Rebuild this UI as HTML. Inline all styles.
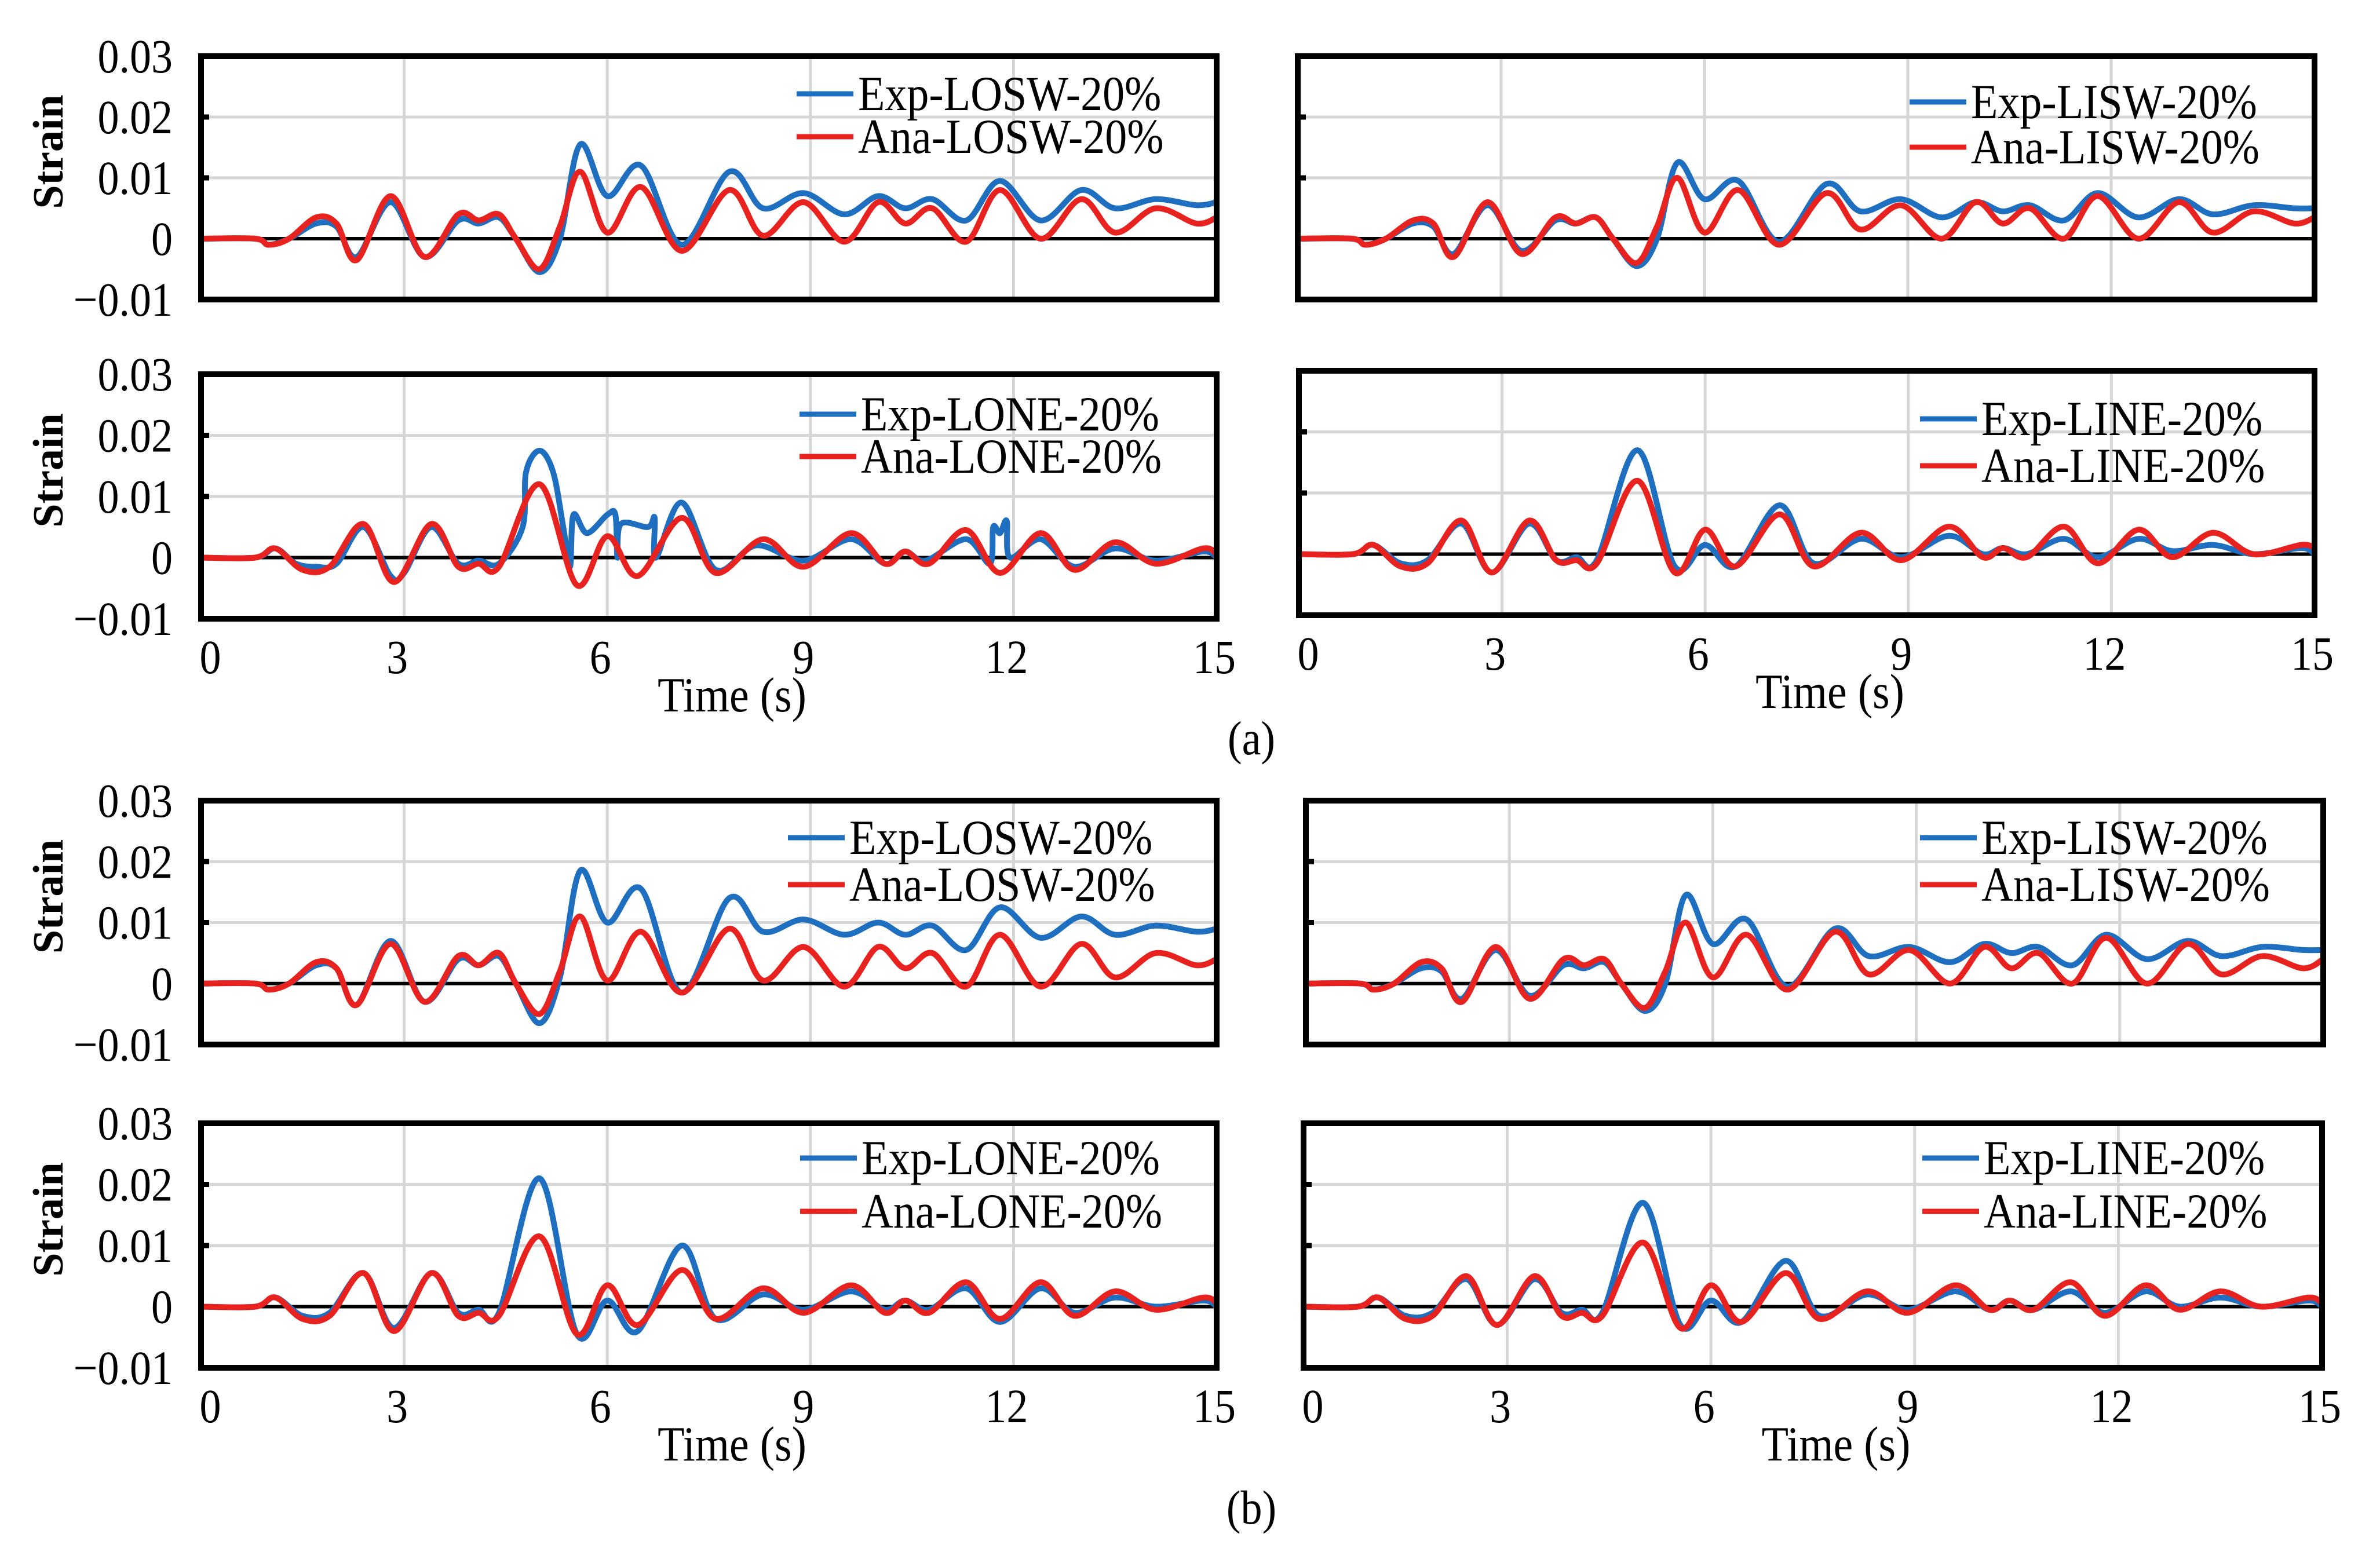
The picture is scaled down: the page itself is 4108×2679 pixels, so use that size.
<!DOCTYPE html>
<html><head><meta charset="utf-8">
<style>
html,body{margin:0;padding:0;background:#fff;}
svg{display:block;}
text{font-family:"Liberation Serif",serif;fill:#000;}
</style></head>
<body>
<svg id="fig" width="4108" height="2679" viewBox="0 0 4108 2679" xmlns="http://www.w3.org/2000/svg">
<rect x="0" y="0" width="4108" height="2679" fill="#ffffff"/>
<text x="0" y="0" transform="translate(2160,1302) scale(1,1.12)" font-size="74" text-anchor="middle">(a)</text>
<text x="0" y="0" transform="translate(2160,2630) scale(1,1.12)" font-size="74" text-anchor="middle">(b)</text>
</svg>
<script>
// ---------- data ----------
const xTicks = [0, 3, 6, 9, 12, 15];
const yTicks = [0.03, 0.02, 0.01, 0, -0.01];
const yTickLabels = ["0.03", "0.02", "0.01", "0", "\u22120.01"];

const tSW = [0,0.8,1.0,1.3,1.7,2.0,2.3,2.8,3.3,3.8,4.1,4.4,4.65,5.0,5.3,5.6,6.0,6.5,7.1,7.8,8.3,8.9,9.5,10.0,10.4,10.8,11.3,11.8,12.4,13.0,13.5,14.1,14.7,15];
const expA_LOSW = [0,0,-0.001,0,0.0025,0.002,-0.003,0.006,-0.003,0.003,0.0025,0.0035,0,-0.0055,0,0.0155,0.007,0.012,-0.001,0.011,0.005,0.0075,0.004,0.007,0.005,0.0065,0.003,0.0095,0.003,0.008,0.005,0.0065,0.0055,0.006];
const anaA_LOSW = [0,0,-0.001,0,0.0035,0.0025,-0.0035,0.007,-0.003,0.004,0.003,0.004,0,-0.005,0.002,0.011,0.001,0.0085,-0.002,0.008,0.0005,0.006,-0.0005,0.006,0.0025,0.005,-0.0005,0.008,0,0.0065,0.001,0.005,0.0025,0.0035];
const expA_LISW = [0,0,-0.001,0,0.0025,0.002,-0.0025,0.0055,-0.002,0.003,0.0025,0.0035,0,-0.0045,0,0.0125,0.0065,0.0095,-0.0005,0.009,0.0045,0.0065,0.0035,0.006,0.0045,0.0055,0.003,0.0075,0.0035,0.0065,0.004,0.0055,0.005,0.005];
const anaA_LISW = [0,0,-0.001,0,0.003,0.0025,-0.003,0.006,-0.0025,0.0035,0.0025,0.0035,0,-0.004,0.002,0.010,0.001,0.008,-0.001,0.0075,0.0015,0.0055,0,0.006,0.0025,0.005,0,0.007,0,0.006,0.001,0.0045,0.0025,0.0035];
const expB_LOSW = [0,0,-0.001,0,0.003,0.0025,-0.0035,0.007,-0.003,0.004,0.003,0.0045,0,-0.0065,0.001,0.0185,0.010,0.0155,-0.0015,0.014,0.0085,0.0105,0.008,0.010,0.008,0.0095,0.0055,0.0125,0.0075,0.011,0.008,0.0095,0.0085,0.009];
const anaB_LOSW = [0,0,-0.001,0,0.0035,0.0025,-0.0035,0.0065,-0.003,0.0045,0.003,0.005,0,-0.005,0.002,0.011,0.0005,0.0085,-0.0015,0.009,0.0005,0.006,-0.0005,0.006,0.0025,0.005,-0.0005,0.008,-0.0005,0.0065,0.001,0.005,0.003,0.004];
const expB_LISW = [0,0,-0.001,0,0.0025,0.002,-0.0025,0.0055,-0.002,0.003,0.0025,0.0035,0,-0.0045,0,0.0145,0.0065,0.0105,-0.0005,0.009,0.0045,0.006,0.0035,0.0065,0.005,0.006,0.003,0.008,0.004,0.007,0.0045,0.006,0.0055,0.0055];
const anaB_LISW = [0,0,-0.001,0,0.0035,0.0025,-0.003,0.006,-0.0025,0.004,0.003,0.004,0,-0.004,0.002,0.010,0.001,0.008,-0.001,0.0085,0.0015,0.0055,0,0.006,0.0025,0.005,0,0.0075,0,0.0065,0.0015,0.0045,0.0025,0.004];

const tNE = [0,0.8,1.1,1.5,1.9,2.4,2.85,3.4,3.8,4.1,4.4,5.0,5.55,6.0,6.45,7.1,7.6,8.3,8.9,9.6,10.1,10.4,10.75,11.3,11.8,12.4,12.9,13.5,14.1,14.8,15];
const anaA_LONE = [0,0,0.0015,-0.002,-0.0015,0.0055,-0.004,0.0055,-0.0015,-0.001,-0.0015,0.012,-0.0045,0.0035,-0.003,0.0065,-0.0025,0.003,-0.0015,0.004,-0.001,0.001,-0.001,0.0045,-0.0025,0.004,-0.002,0.0025,-0.001,0.0015,0.0005];
const expA_LINE = [0,0,0.0015,-0.0015,-0.001,0.005,-0.003,0.005,-0.001,-0.0005,-0.001,0.017,-0.002,0.0015,-0.002,0.008,-0.0015,0.0025,-0.0005,0.003,0,0.001,0,0.0025,-0.0005,0.0025,0.0005,0.0015,0,0.001,0];
const anaA_LINE = [0,0,0.0015,-0.002,-0.0015,0.0055,-0.003,0.0055,-0.001,-0.001,-0.0015,0.012,-0.003,0.004,-0.002,0.0065,-0.002,0.0035,-0.001,0.0045,-0.0005,0.001,-0.0005,0.0045,-0.0015,0.004,-0.0005,0.0035,0,0.0015,0.001];
const expB_LONE = [0,0,0.0015,-0.0015,-0.001,0.0055,-0.0035,0.0055,-0.001,-0.0005,-0.001,0.021,-0.0045,0.001,-0.004,0.010,-0.002,0.002,-0.0005,0.0025,-0.0005,0.001,-0.0005,0.003,-0.0025,0.003,-0.001,0.0015,0,0.001,0];
const anaB_LONE = [0,0,0.0015,-0.002,-0.0015,0.0055,-0.004,0.0055,-0.0015,-0.001,-0.0015,0.0115,-0.0045,0.0035,-0.003,0.006,-0.002,0.003,-0.001,0.0035,-0.001,0.001,-0.001,0.004,-0.002,0.004,-0.0015,0.0025,-0.0005,0.0015,0.0005];
const expB_LINE = [0,0,0.0015,-0.0015,-0.001,0.0045,-0.003,0.0045,-0.001,-0.0005,-0.001,0.017,-0.003,0.001,-0.0025,0.0075,-0.0015,0.002,-0.0005,0.0025,-0.0005,0.001,-0.0005,0.0025,-0.001,0.0025,0,0.0015,0,0.001,0];
const anaB_LINE = [0,0,0.0015,-0.002,-0.0015,0.005,-0.003,0.005,-0.0015,-0.001,-0.0015,0.0105,-0.0035,0.0035,-0.0025,0.0055,-0.002,0.0025,-0.001,0.0035,-0.0005,0.001,-0.0005,0.004,-0.0015,0.0035,-0.0005,0.0025,0,0.0015,0.0005];

const tA_LONEexp = [0,0.8,1.1,1.4,1.7,2.0,2.4,2.8,3.0,3.4,3.8,4.1,4.4,4.75,4.8,5.0,5.2,5.35,5.45,5.5,5.7,6.0,6.12,6.15,6.2,6.6,6.7,6.72,7.1,7.6,8.2,8.9,9.6,10.1,10.4,10.7,11.3,11.65,11.7,11.8,11.9,11.95,12.4,12.9,13.5,14.1,14.8,15];
const expA_LONE = [0,0,0.0015,-0.001,-0.0015,-0.001,0.005,-0.003,-0.0025,0.005,-0.001,-0.0005,-0.001,0.005,0.014,0.0175,0.014,0.005,-0.0015,0.007,0.004,0.007,0.007,0,0.0055,0.005,0.0065,0,0.009,-0.002,0.002,-0.0005,0.003,-0.001,0.001,-0.0005,0.003,-0.001,0.005,0.004,0.006,0,0.003,-0.0015,0.0015,-0.0005,0.001,0];

// ---------- drawing ----------
const NS = "http://www.w3.org/2000/svg";
const svg = document.getElementById("fig");
function mk(tag, attrs, parent){
  const e = document.createElementNS(NS, tag);
  for (const k in attrs) e.setAttribute(k, attrs[k]);
  (parent || svg).appendChild(e);
  return e;
}
function txt(x, y, size, anchor, parent){
  return mk("text", {x:0, y:0, transform:"translate(" + x + "," + y + ") scale(1,1.12)", "font-size":size, "text-anchor":anchor}, parent);
}
function smoothPath(pts){
  let d = "M" + pts[0][0].toFixed(1) + "," + pts[0][1].toFixed(1);
  for (let i = 0; i < pts.length - 1; i++){
    const p0 = pts[Math.max(0,i-1)], p1 = pts[i], p2 = pts[i+1], p3 = pts[Math.min(pts.length-1,i+2)];
    const c1x = p1[0] + (p2[0]-p0[0])/6, c1y = p1[1] + (p2[1]-p0[1])/6;
    const c2x = p2[0] - (p3[0]-p1[0])/6, c2y = p2[1] - (p3[1]-p1[1])/6;
    d += " C" + c1x.toFixed(1)+","+c1y.toFixed(1)+" "+c2x.toFixed(1)+","+c2y.toFixed(1)+" "+p2[0].toFixed(1)+","+p2[1].toFixed(1);
  }
  return d;
}

const panels = [
  {id:"a-losw", L:347, R:2100, T:97, B:517, left:true, xlab:false, tExp:tSW, exp:expA_LOSW, tAna:tSW, ana:anaA_LOSW, names:["Exp-LOSW-20%","Ana-LOSW-20%"], lx:1375, ly:[162,236]},
  {id:"a-lisw", L:2240, R:3995, T:97, B:517, left:false, xlab:false, tExp:tSW, exp:expA_LISW, tAna:tSW, ana:anaA_LISW, names:["Exp-LISW-20%","Ana-LISW-20%"], lx:3296, ly:[176,254]},
  {id:"a-lone", L:347, R:2100, T:646, B:1068, left:true, xlab:true, tExp:tA_LONEexp, exp:expA_LONE, tAna:tNE, ana:anaA_LONE, names:["Exp-LONE-20%","Ana-LONE-20%"], lx:1380, ly:[715,788]},
  {id:"a-line", L:2242, R:3995, T:640, B:1062, left:false, xlab:true, tExp:tNE, exp:expA_LINE, tAna:tNE, ana:anaA_LINE, names:["Exp-LINE-20%","Ana-LINE-20%"], lx:3314, ly:[723,804]},
  {id:"b-losw", L:347, R:2100, T:1382, B:1803, left:true, xlab:false, tExp:tSW, exp:expB_LOSW, tAna:tSW, ana:anaB_LOSW, names:["Exp-LOSW-20%","Ana-LOSW-20%"], lx:1360, ly:[1446,1527]},
  {id:"b-lisw", L:2254, R:4010, T:1382, B:1803, left:false, xlab:false, tExp:tSW, exp:expB_LISW, tAna:tSW, ana:anaB_LISW, names:["Exp-LISW-20%","Ana-LISW-20%"], lx:3314, ly:[1446,1527]},
  {id:"b-lone", L:347, R:2100, T:1939, B:2361, left:true, xlab:true, tExp:tNE, exp:expB_LONE, tAna:tNE, ana:anaB_LONE, names:["Exp-LONE-20%","Ana-LONE-20%"], lx:1381, ly:[1999,2091]},
  {id:"b-line", L:2250, R:4008, T:1939, B:2361, left:false, xlab:true, tExp:tNE, exp:expB_LINE, tAna:tNE, ana:anaB_LINE, names:["Exp-LINE-20%","Ana-LINE-20%"], lx:3318, ly:[1999,2091]}
];

panels.forEach(function(p){
  const g = mk("g", {});
  
  
  const xs = function(t){ return p.L + (t - 0) / 15 * (p.R - p.L); };
  const ys = function(v){ return p.T + (0.03 - v) / 0.04 * (p.B - p.T); };

  [3,6,9,12].forEach(function(t){
    const l = mk("line", {x1:xs(t), x2:xs(t), y1:p.T, y2:p.B, stroke:"#d6d6d6", "stroke-width":5}, g);
    
    
  });
  [0.01,0.02].forEach(function(v){
    const l = mk("line", {x1:p.L, x2:p.R, y1:ys(v), y2:ys(v), stroke:"#d6d6d6", "stroke-width":5}, g);
    
    
    const tk = mk("line", {x1:p.L, x2:p.L+14, y1:ys(v), y2:ys(v), stroke:"#000", "stroke-width":9}, g);
    
    
  });
  const z = mk("line", {x1:p.L, x2:p.R, y1:ys(0), y2:ys(0), stroke:"#000", "stroke-width":6}, g);
  
  

  const ptsE = p.tExp.map(function(t,i){ return [xs(t), ys(p.exp[i])]; });
  const ptsA = p.tAna.map(function(t,i){ return [xs(t), ys(p.ana[i])]; });
  const pe = mk("path", {d:smoothPath(ptsE), fill:"none", stroke:"#1f6fc0", "stroke-width":10, "stroke-linejoin":"round"}, g);
  
  
  const pa = mk("path", {d:smoothPath(ptsA), fill:"none", stroke:"#e8221e", "stroke-width":10, "stroke-linejoin":"round"}, g);
  
  

  const fr = mk("rect", {x:p.L, y:p.T, width:p.R-p.L, height:p.B-p.T, fill:"none", stroke:"#000", "stroke-width":10}, g);
  
  

  const cols = ["#1f6fc0", "#e8221e"];
  for (let k = 0; k < 2; k++){
    const lg = mk("g", {}, g);
    
    
    mk("line", {x1:p.lx, x2:p.lx+98, y1:p.ly[k], y2:p.ly[k], stroke:cols[k], "stroke-width":9}, lg);
    const tx = txt(p.lx+106, p.ly[k]+28, 76, "start", lg);
    tx.textContent = p.names[k];
  }

  if (p.left){
    yTicks.forEach(function(v,i){
      const t = txt(298, ys(v)+28, 74, "end", g);
      
      
      t.textContent = yTickLabels[i];
    });
    const cy = (p.T + p.B)/2 - 45;
    const st = mk("text", {x:0, y:0, "font-size":74, "font-weight":"bold", "text-anchor":"middle", transform:"translate(108," + cy + ") rotate(-90)"}, g);
    
    
    st.textContent = "Strain";
  }
  if (p.xlab){
    xTicks.forEach(function(t){
      let xx = xs(t) - 12;
      if (t === 0) xx = xs(t) + 16;
      if (t === 15) xx = xs(t) - 4;
      const tl = txt(xx, p.B+94, 74, "middle", g);
      
      
      tl.textContent = String(t);
    });
    const xt = txt((p.L+p.R)/2 + 40, p.B+160, 76, "middle", g);
    
    
    xt.textContent = "Time (s)";
  }
});
</script>
</body></html>
